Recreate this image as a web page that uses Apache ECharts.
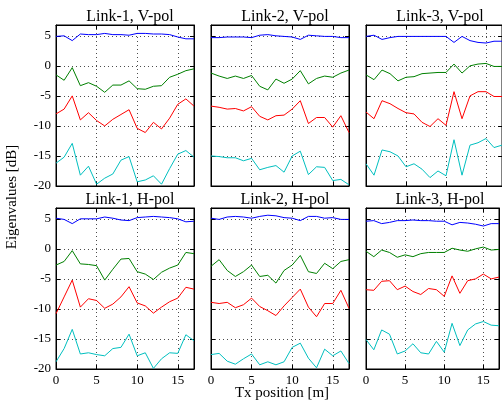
<!DOCTYPE html>
<html>
<head>
<meta charset="utf-8">
<script src="https://cdn.jsdelivr.net/npm/echarts@6/dist/echarts.min.js"></script>
<style>
  html, body { margin: 0; background: #fff; }
  #chart { width: 502px; height: 408px; }
</style>
</head>
<body>
<div id="chart"></div>
<script>
// Tx positions (m)
const positions = [0, 1, 2, 3, 4, 5, 6, 7, 8, 9, 10, 11, 12, 13, 14, 15, 16, 17];
const xTicks = [0, 5, 10, 15];
const yTicks = [-20, -15, -10, -5, 0, 5];

const panelTitles = ['Link-1, V-pol', 'Link-2, V-pol', 'Link-3, V-pol',
                     'Link-1, H-pol', 'Link-2, H-pol', 'Link-3, H-pol'];

// eigenvalues [dB], order: 1st (blue), 2nd (green), 3rd (red), 4th (cyan)
const link1V = [
  [4.9, 5.0, 4.2, 5.3, 5.2, 5.2, 5.4, 5.2, 5.2, 5.1, 5.4, 5.4, 5.3, 5.3, 5.2, 4.8, 4.5, 4.5],
  [-1.5, -2.4, -0.3, -3.3, -2.8, -3.4, -4.4, -3.2, -3.2, -2.5, -3.8, -3.9, -3.4, -3.3, -1.9, -1.4, -0.8, -0.5],
  [-8.0, -7.2, -5.0, -9.0, -7.8, -9.1, -10.0, -8.9, -8.1, -7.3, -10.4, -11.1, -9.4, -10.5, -8.7, -6.4, -5.5, -6.7],
  [-16.2, -15.2, -12.9, -18.2, -16.7, -19.7, -18.7, -18.0, -15.7, -15.1, -19.3, -19.0, -18.3, -19.7, -17.1, -14.7, -14.1, -15.2]
];
const link2V = [
  [4.7, 4.7, 4.8, 4.8, 4.8, 4.7, 5.1, 5.2, 5.0, 4.9, 4.8, 4.4, 5.1, 5.0, 4.9, 4.9, 4.7, 4.7],
  [-1.2, -1.7, -2.1, -1.7, -2.1, -1.6, -3.4, -4.0, -2.2, -2.9, -2.2, -0.8, -3.0, -2.1, -1.7, -1.9, -1.2, -0.7],
  [-6.7, -6.9, -7.2, -7.1, -7.5, -6.8, -8.4, -9.0, -8.3, -8.2, -7.2, -5.8, -9.6, -8.6, -8.6, -10.2, -8.3, -11.1],
  [-15.0, -15.1, -15.3, -15.3, -15.8, -15.4, -17.3, -16.9, -16.6, -17.7, -15.0, -14.2, -18.1, -16.8, -16.9, -19.1, -18.9, -19.8]
];
const link3V = [
  [4.9, 5.1, 4.4, 4.7, 4.9, 4.9, 4.9, 4.9, 4.9, 4.9, 4.9, 3.9, 4.9, 4.2, 3.9, 3.8, 4.1, 4.1],
  [-1.5, -2.3, -0.7, -1.3, -2.5, -1.9, -1.8, -1.3, -1.2, -1.1, -1.1, 0.3, -1.2, 0.0, 0.3, 0.4, -0.1, -0.1],
  [-7.7, -8.8, -5.8, -6.3, -7.1, -7.8, -8.0, -9.4, -10.1, -8.8, -9.9, -4.3, -8.8, -5.0, -4.3, -4.3, -5.1, -5.1],
  [-16.3, -18.2, -14.0, -14.3, -15.0, -16.8, -16.3, -17.2, -18.6, -17.5, -18.3, -12.3, -18.2, -13.2, -12.8, -12.1, -13.6, -13.2]
];
const link1H = [
  [5.1, 4.9, 4.2, 5.0, 5.0, 5.0, 5.3, 5.1, 4.8, 4.7, 5.2, 5.3, 5.4, 5.3, 5.2, 5.0, 4.5, 4.6],
  [-2.7, -2.1, -0.3, -2.5, -2.6, -2.8, -5.2, -3.4, -1.7, -1.6, -3.8, -4.2, -5.1, -3.9, -3.2, -2.7, -0.6, -0.8],
  [-10.8, -8.0, -5.2, -9.7, -8.3, -8.6, -9.9, -9.2, -8.0, -6.3, -9.0, -9.5, -10.7, -9.7, -8.8, -8.2, -6.4, -6.7],
  [-18.8, -16.6, -13.4, -17.5, -17.3, -17.6, -17.8, -16.6, -16.4, -14.2, -17.8, -17.3, -19.9, -18.3, -17.3, -17.4, -14.3, -15.3]
];
const link2H = [
  [5.1, 4.9, 5.3, 5.4, 5.3, 5.1, 5.4, 5.6, 5.5, 5.2, 5.1, 4.7, 5.4, 5.4, 5.1, 5.2, 4.9, 4.9],
  [-2.9, -1.8, -3.6, -4.6, -3.8, -2.7, -4.6, -4.4, -5.7, -3.6, -2.7, -1.1, -3.8, -4.1, -2.4, -3.3, -2.1, -1.8],
  [-8.9, -9.1, -8.9, -9.8, -9.3, -8.2, -9.6, -10.3, -11.1, -9.5, -8.1, -6.7, -9.7, -11.3, -9.1, -9.1, -6.9, -9.9],
  [-17.6, -17.4, -18.7, -19.2, -18.3, -17.5, -19.3, -18.8, -19.3, -18.8, -16.4, -15.7, -18.2, -19.8, -16.7, -17.8, -17.0, -19.1]
];
const link3H = [
  [4.6, 4.7, 4.2, 4.4, 4.7, 4.7, 4.8, 4.7, 4.7, 4.6, 4.6, 4.0, 4.4, 4.3, 4.1, 3.8, 4.2, 4.2],
  [-0.4, -1.3, -0.2, -0.6, -1.4, -1.0, -1.3, -0.8, -0.6, -0.6, -0.6, 0.1, -0.2, -0.4, 0.0, 0.3, -0.2, -0.1],
  [-6.8, -6.9, -5.4, -5.3, -6.8, -6.2, -7.1, -7.6, -6.6, -6.8, -7.9, -4.5, -7.4, -5.3, -5.0, -4.2, -5.0, -4.7],
  [-15.1, -16.8, -13.5, -14.2, -17.5, -17.0, -15.8, -17.3, -17.5, -15.4, -17.2, -12.4, -16.1, -13.5, -12.5, -12.1, -12.7, -12.8]
];

const panels = [link1V, link2V, link3V, link1H, link2H, link3H];
const lineColors = ['#0000ff', '#008000', '#ff0000', '#00bfbf'];

const FONT = 'Liberation Serif';
const colLeft = [56, 211, 366];
const rowTop = [25, 208];
const PW = 138, PH = 161;

const grids = [], xAxes = [], yAxes = [], series = [], titles = [];

panels.forEach((vals, i) => {
  const row = Math.floor(i / 3), col = i % 3;
  grids.push({
    left: colLeft[col], top: rowTop[row], width: PW, height: PH,
    show: true, borderColor: '#000', borderWidth: 1, backgroundColor: 'transparent'
  });
  const base = {
    gridIndex: i, type: 'value',
    axisLine: { show: true, onZero: false, lineStyle: { color: '#000', width: 1 } },
    axisTick: { show: true, inside: true, length: 4, lineStyle: { color: '#000' } }
  };
  const tickFmt = (ticks) => (v) => ticks.includes(v) ? String(v) : '';
  // bottom x
  xAxes.push(Object.assign({}, base, {
    position: 'bottom', min: 0, max: 17, interval: 5,
    axisLabel: { show: row === 1, color: '#000', fontFamily: FONT, fontSize: 13, margin: 5,
                 formatter: tickFmt(xTicks) },
    splitLine: { show: true, lineStyle: { color: '#000', type: [1, 3], width: 1, opacity: 0.7 } }
  }));
  // top x (ticks only)
  xAxes.push(Object.assign({}, base, {
    position: 'top', min: 0, max: 17, interval: 5,
    axisLabel: { show: false }, splitLine: { show: false }
  }));
  // left y
  yAxes.push(Object.assign({}, base, {
    position: 'left', min: -20, max: 6.8, interval: 5,
    axisLabel: { show: col === 0, color: '#000', fontFamily: FONT, fontSize: 13, margin: 5,
                 formatter: tickFmt(yTicks) },
    splitLine: { show: true, lineStyle: { color: '#000', type: [1, 3], width: 1, opacity: 0.7 } }
  }));
  // right y (ticks only)
  yAxes.push(Object.assign({}, base, {
    position: 'right', min: -20, max: 6.8, interval: 5,
    axisLabel: { show: false }, splitLine: { show: false }
  }));

  vals.forEach((ys, k) => {
    series.push({
      type: 'line', xAxisIndex: i * 2, yAxisIndex: i * 2,
      data: positions.map((x, j) => [x, ys[j]]),
      symbol: 'none', silent: true,
      lineStyle: { color: lineColors[k], width: 1 },
      clip: true
    });
  });

  titles.push({
    text: panelTitles[i],
    left: colLeft[col] + PW / 2, top: rowTop[row] - 21, textAlign: 'center',
    textStyle: { fontFamily: FONT, fontSize: 16, fontWeight: 'normal', color: '#000' }
  });
});

const chart = echarts.init(document.getElementById('chart'));
chart.setOption({
  backgroundColor: '#fff',
  animation: false,
  title: titles,
  grid: grids,
  xAxis: xAxes,
  yAxis: yAxes,
  series: series,
  graphic: [
    {
      type: 'text', rotation: Math.PI / 2,
      x: 12, y: 197,
      style: { text: 'Eigenvalues [dB]', fontFamily: FONT, fontSize: 15, fill: '#000',
               textAlign: 'center', textVerticalAlign: 'middle' }
    },
    {
      type: 'text', x: 282, y: 393,
      style: { text: 'Tx position [m]', fontFamily: FONT, fontSize: 15, fill: '#000',
               textAlign: 'center', textVerticalAlign: 'middle' }
    }
  ]
});
</script>
</body>
</html>
